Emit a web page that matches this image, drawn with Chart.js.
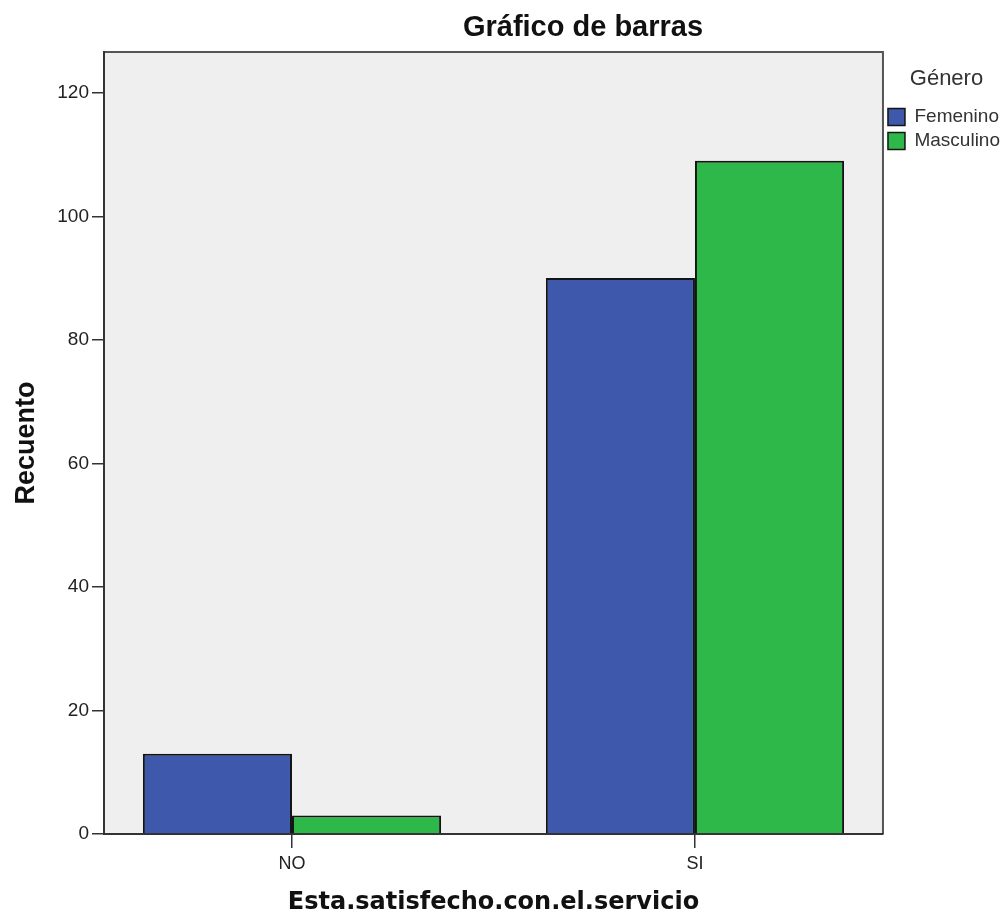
<!DOCTYPE html>
<html>
<head>
<meta charset="utf-8">
<script src="https://cdn.jsdelivr.net/npm/chart.js@4/dist/chart.umd.min.js"></script>
<style>
  html, body { margin: 0; padding: 0; background: #ffffff; }
  #wrap { width: 1007px; height: 918px; position: relative; }
</style>
</head>
<body>
<div id="wrap"><canvas id="c"></canvas></div>
<script>
// ---- data ----
const categories = ['NO', 'SI'];
const seriesNames = ['Femenino', 'Masculino'];
const femenino = [13, 90];
const masculino = [3, 109];
const yTicks = [0, 20, 40, 60, 80, 100, 120];
const chartTitle = 'Gráfico de barras';
const xTitle = 'Esta.satisfecho.con.el.servicio';
const yTitle = 'Recuento';
const legendTitle = 'Género';

const BLUE = '#3e58ab';
const GREEN = '#2eb84a';

const toPoints = arr => arr.map((v, i) => ({ x: i, y: v }));

const plotBg = {
  id: 'plotBg',
  beforeDraw(chart) {
    const { ctx, chartArea: a } = chart;
    ctx.save();
    ctx.fillStyle = '#efefef';
    ctx.fillRect(a.left, a.top, a.right - a.left, a.bottom - a.top);
    ctx.strokeStyle = '#555555';
    ctx.lineWidth = 2;
    ctx.beginPath();
    ctx.moveTo(a.left, a.top);
    ctx.lineTo(a.right, a.top);
    ctx.lineTo(a.right, a.bottom);
    ctx.stroke();
    ctx.restore();
  },
  afterDraw(chart) {
    const { ctx } = chart;
    ctx.save();
    ctx.fillStyle = '#111111';
    ctx.font = 'bold 29px "Liberation Sans", Arial, sans-serif';
    ctx.textAlign = 'center';
    ctx.textBaseline = 'alphabetic';
    ctx.fillText(chartTitle, 583, 36);
    ctx.restore();
  }
};

new Chart(document.getElementById('c'), {
  type: 'bar',
  data: {
    datasets: [
      { label: seriesNames[0], data: toPoints(femenino), backgroundColor: BLUE, borderColor: '#141414', borderWidth: 2, borderSkipped: 'start' },
      { label: seriesNames[1], data: toPoints(masculino), backgroundColor: GREEN, borderColor: '#141414', borderWidth: 2, borderSkipped: 'start' }
    ]
  },
  options: {
    responsive: true,
    maintainAspectRatio: false,
    animation: false,
    layout: { padding: { top: 52, left: 0, right: -3, bottom: 0 } },
    categoryPercentage: 0.74,
    barPercentage: 1.0,
    plugins: {
      title: { display: false },
      tooltip: { enabled: false },
      legend: {
        position: 'right',
        align: 'start',
        title: { display: true, text: legendTitle, color: '#333333', font: { family: '"Liberation Sans", Arial, sans-serif', size: 22 }, padding: { top: 16, bottom: 8 } },
        labels: {
          boxWidth: 17, boxHeight: 17, padding: 5, color: '#111111',
          font: { family: '"Liberation Sans", Arial, sans-serif', size: 19, lineHeight: 1.0 },
          generateLabels(chart) {
            return chart.data.datasets.map((d, i) => ({
              text: d.label, fillStyle: d.backgroundColor, strokeStyle: '#141414', lineWidth: 1.5, datasetIndex: i, hidden: false
            }));
          }
        }
      }
    },
    scales: {
      x: {
        type: 'linear',
        offset: false,
        min: -0.4665,
        max: 1.4665,
        afterBuildTicks(scale) { scale.ticks = categories.map((c, i) => ({ value: i })); },
        afterFit(scale) { scale.height = 84; },
        ticks: {
          callback: (v) => categories[v],
          color: '#222222',
          font: { family: '"Liberation Sans", Arial, sans-serif', size: 18 },
          padding: 5,
          maxRotation: 0
        },
        grid: { display: true, offset: false, drawOnChartArea: false, drawTicks: true, tickLength: 14, color: '#333333', lineWidth: 1.5 },
        border: { display: true, color: '#333333', width: 2 },
        title: { display: true, text: xTitle, color: '#111111', font: { family: '"DejaVu Sans", sans-serif', size: 24, weight: 'bold' }, padding: { top: 4, bottom: 1 } }
      },
      y: {
        min: 0,
        max: 126.6,
        afterBuildTicks(scale) { scale.ticks = yTicks.map(v => ({ value: v })); },
        afterFit(scale) { scale.width = 104; },
        ticks: {
          color: '#222222',
          font: { family: '"Liberation Sans", Arial, sans-serif', size: 19 },
          padding: 3
        },
        grid: { display: true, drawOnChartArea: false, drawTicks: true, tickLength: 12, color: '#333333', lineWidth: 1.5 },
        border: { display: true, color: '#333333', width: 2 },
        title: { display: true, text: yTitle, color: '#111111', font: { family: '"Liberation Sans", Arial, sans-serif', size: 27, weight: 'bold' }, padding: { top: 10, bottom: 0 } }
      }
    }
  },
  plugins: [plotBg]
});
</script>
</body>
</html>
